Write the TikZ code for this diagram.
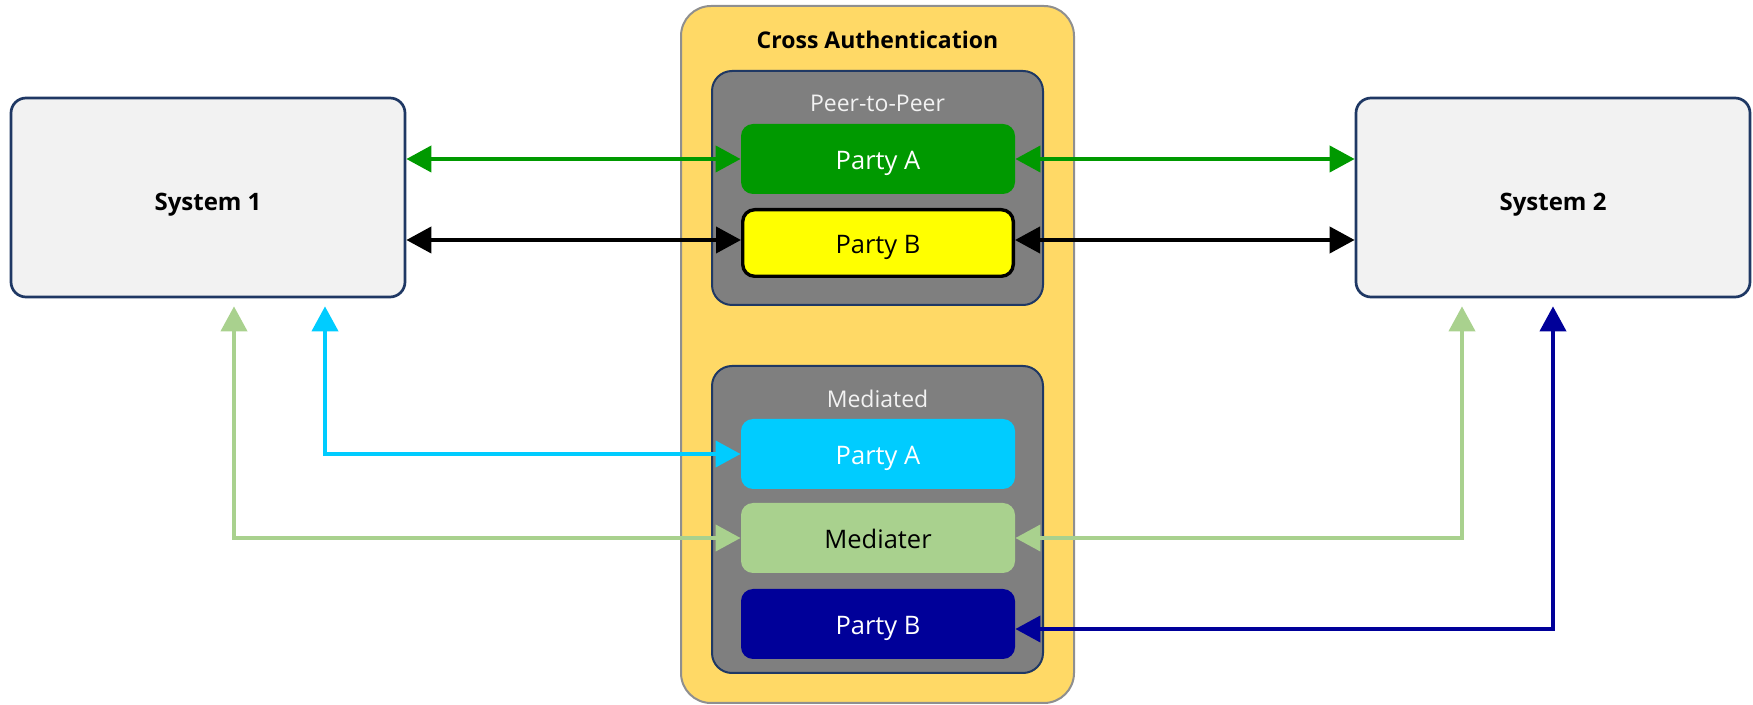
\documentclass[tikz,border=0pt]{standalone}
\usepackage{fontspec}
\setmainfont{Open Sans}
\usetikzlibrary{arrows.meta,calc}

\definecolor{panel}{HTML}{FFD966}
\definecolor{panelline}{HTML}{8F8F8F}
\definecolor{groupfill}{HTML}{7F7F7F}
\definecolor{darkline}{HTML}{1F3864}
\definecolor{sysfill}{HTML}{F2F2F2}
\definecolor{pgreen}{HTML}{009900}
\definecolor{pcyan}{HTML}{00CCFF}
\definecolor{plgreen}{HTML}{A9D18E}
\definecolor{pnavy}{HTML}{000099}
\definecolor{pyellow}{HTML}{FFFF00}
\definecolor{lighttext}{HTML}{F2F2F2}

\begin{document}
\begin{tikzpicture}[x=0.5pt,y=-0.5pt,
  outerbox/.style={draw=panelline, line width=1pt, fill=panel, rounded corners=15pt, inner sep=0pt},
  titletext/.style={font=\fontsize{11.5pt}{13pt}\selectfont\bfseries, inner sep=0pt},
  groupbox/.style={draw=darkline, line width=1pt, fill=groupfill, rounded corners=10pt,
    minimum width=165.5pt, inner sep=0pt},
  grouplabel/.style={font=\fontsize{11.5pt}{13pt}\selectfont, text=lighttext, inner sep=0pt},
  party/.style={rounded corners=6pt, minimum width=137pt, minimum height=35pt, inner sep=0pt,
    font=\fontsize{12.75pt}{14pt}\selectfont, text height=11pt, text depth=0pt},
  sysbox/.style={draw=darkline, line width=1.35pt, fill=sysfill, rounded corners=7.5pt,
    minimum width=197pt, minimum height=99.5pt, inner sep=0pt,
    font=\fontsize{12pt}{14pt}\selectfont\bfseries, text height=13.5pt, text depth=0pt},
  arr/.style={line width=2pt, line join=miter,
    {Triangle[length=12.5pt,width=13pt]}-{Triangle[length=12.5pt,width=13pt]}}
]
\useasboundingbox (0,0) rectangle (1753,705);

% central panel
\node[outerbox, minimum width=196.5pt, minimum height=348.5pt] (ca) at (877.5,354.5) {};
\node[titletext, anchor=base] (catitle) at (877.5,49) {Cross Authentication};

% peer-to-peer group
\node[groupbox, minimum height=117pt] (p2p) at (877.5,188) {};
\node[grouplabel, anchor=base] (p2plabel) at (877.5,112) {Peer-to-Peer};
\node[party, fill=pgreen, text=white] (pa) at (878,159) {Party A};
\node[party, fill=pyellow, draw=black, line width=1.7pt, minimum width=135.3pt, minimum height=33.3pt] (pb) at (878,243) {Party B};

% mediated group
\node[groupbox, minimum height=153.5pt] (med) at (877.5,519.5) {};
\node[grouplabel, anchor=base] (medlabel) at (877.5,408) {Mediated};
\node[party, fill=pcyan, text=white] (ma) at (878,454) {Party A};
\node[party, fill=plgreen, text=black] (mm) at (878,538) {Mediater};
\node[party, fill=pnavy, text=white] (mb) at (878,624) {Party B};

% systems
\node[sysbox] (s1) at (208,197.5) {System 1};
\node[sysbox] (s2) at (1553,197.5) {System 2};

% peer-to-peer links
\draw[arr, pgreen] (s1.east |- pa.west) -- (pa.west);
\draw[arr, pgreen] (pa.east) -- (s2.west |- pa.east);
\draw[arr, black] ($(s1.east |- pb.west)+(0,-3)$) -- ($(pb.west)+(0,-3)$);
\draw[arr, black] ($(pb.east)+(0,-3)$) -- ($(s2.west |- pb.east)+(0,-3)$);

% mediated links
\draw[arr, pcyan] ([xshift=58.5pt,yshift=-4pt]s1.south) |- (ma.west);
\draw[arr, plgreen] ([xshift=13pt,yshift=-4pt]s1.south) |- (mm.west);
\draw[arr, plgreen] (mm.east) -| ([xshift=-45.5pt,yshift=-4pt]s2.south);
\draw[arr, pnavy] ([yshift=-2.5pt]mb.east) -| ([yshift=-4pt]s2.south);
\end{tikzpicture}
\end{document}
